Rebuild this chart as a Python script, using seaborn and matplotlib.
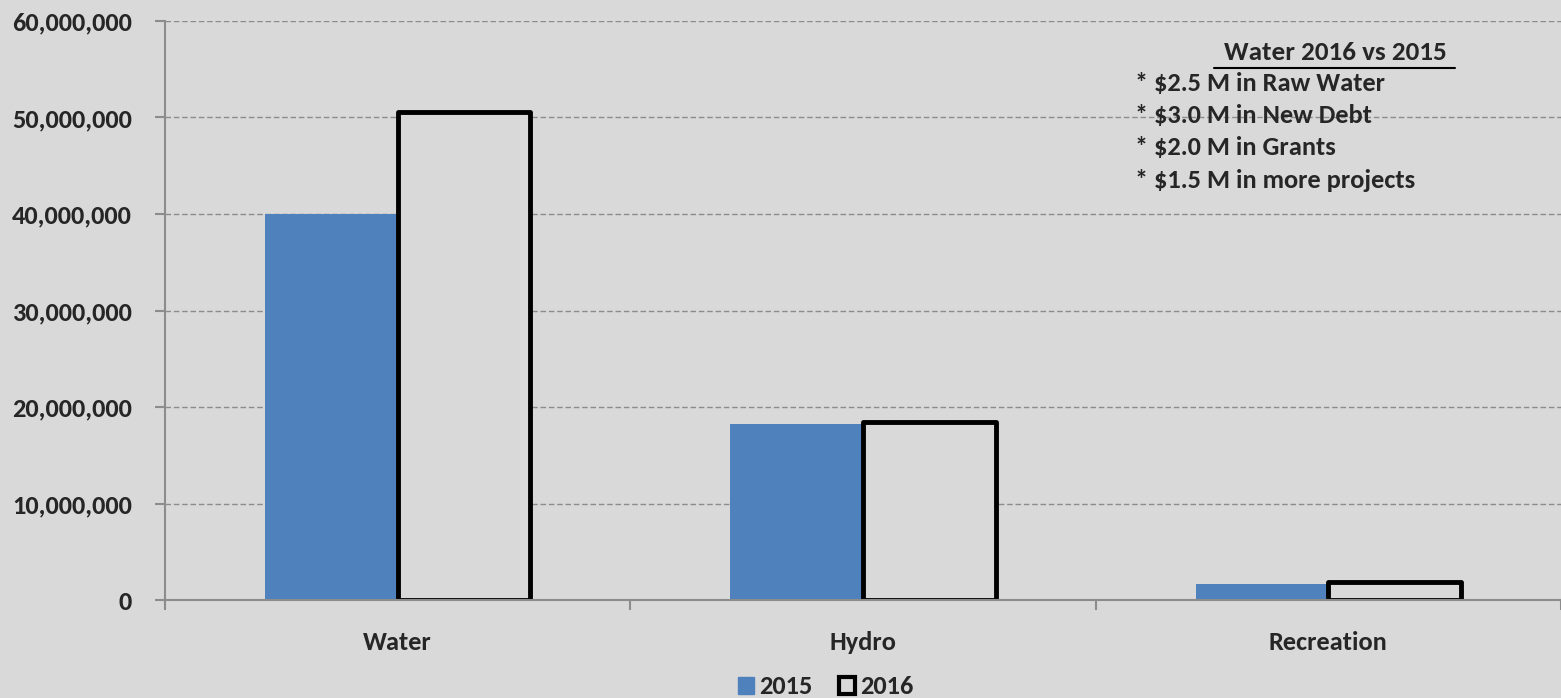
import pandas as pd
import matplotlib.pyplot as plt
import seaborn as sns
from matplotlib.patches import Patch
from matplotlib.lines import Line2D
from matplotlib.ticker import FuncFormatter, FixedLocator

categories = ["Water", "Hydro", "Recreation"]
years = ["2015", "2016"]
values_2015 = [40_000_000, 18_250_000, 1_650_000]
values_2016 = [50_550_000, 18_450_000, 1_850_000]
note_title = "Water 2016 vs 2015"
note_lines = [
    "* $2.5 M in Raw Water",
    "* $3.0 M in New Debt",
    "* $2.0 M in Grants",
    "* $1.5 M in more projects",
]

df = pd.DataFrame(
    {
        "category": categories * 2,
        "year": [years[0]] * 3 + [years[1]] * 3,
        "value": values_2015 + values_2016,
    }
)

bg = "#D9D9D9"
blue = "#4F81BD"
fs = 19
sns.set_theme(style="white")
plt.rcParams["font.family"] = "Carlito"
plt.rcParams["font.weight"] = "bold"

fig = plt.figure(figsize=(15.61, 6.98), dpi=100, facecolor=bg)
ax = fig.add_axes([165 / 1561, 1 - 600 / 698, 1 - 165 / 1561, (600 - 21) / 698])
ax.set_facecolor(bg)

sns.barplot(
    data=df,
    x="category",
    y="value",
    hue="year",
    palette=[blue, bg],
    width=0.57,
    saturation=1,
    ax=ax,
    legend=False,
)
for bar in ax.patches[:3]:
    bar.set_linewidth(0)
for bar in ax.patches[3:]:
    bar.set_edgecolor("black")
    bar.set_linewidth(3.5)
    bar.set_joinstyle("round")

ax.set_xlim(-0.5, 2.5)
ax.set_ylim(0, 60_000_000)
ax.set_yticks(range(0, 60_000_001, 10_000_000))
ax.yaxis.set_major_formatter(FuncFormatter(lambda v, p: f"{int(v):,}"))
ax.yaxis.grid(True, color="#8C8C8C", linestyle=(0, (4, 2)), linewidth=1)
ax.set_axisbelow(True)
ax.set_xlabel("")
ax.set_ylabel("")

for s in ["top", "right"]:
    ax.spines[s].set_visible(False)
for s in ["left", "bottom"]:
    ax.spines[s].set_color("#8C8C8C")
    ax.spines[s].set_linewidth(1.5)

ax.tick_params(axis="y", which="major", length=7, width=1.5, color="#8C8C8C",
               labelsize=fs, pad=17, left=True)
ax.xaxis.set_minor_locator(FixedLocator([-0.5, 0.5, 1.5, 2.5]))
ax.tick_params(axis="x", which="major", length=0, labelsize=fs, pad=22)
ax.tick_params(axis="x", which="minor", length=7, width=1.5, color="#8C8C8C", bottom=True)
for lab in ax.get_xticklabels() + ax.get_yticklabels():
    lab.set_fontweight("bold")

# annotation box
fig.text(1335 / 1561, 1 - 52 / 698, note_title, ha="center", va="center",
         fontsize=fs + 0.5, fontweight="bold")
fig.add_artist(Line2D([1214 / 1561, 1455 / 1561], [1 - 68 / 698, 1 - 68 / 698],
                      color="black", linewidth=1.5))
for i, line in enumerate(note_lines):
    fig.text(1135 / 1561, 1 - (84 + 32 * i) / 698, line, ha="left", va="center",
             fontsize=fs, fontweight="bold")

handles = [
    Patch(facecolor=blue, edgecolor=blue, label=years[0]),
    Patch(facecolor=bg, edgecolor="black", linewidth=3, label=years[1]),
]
fig.legend(handles=handles, loc="center", bbox_to_anchor=(826 / 1561, 1 - 687 / 698),
           ncol=2, frameon=False, handlelength=0.6, handleheight=0.6,
           handletextpad=0.2, columnspacing=1.0, borderpad=0.1,
           prop={"weight": "bold", "size": fs})

fig.savefig("out.png", dpi=100, facecolor=bg)
